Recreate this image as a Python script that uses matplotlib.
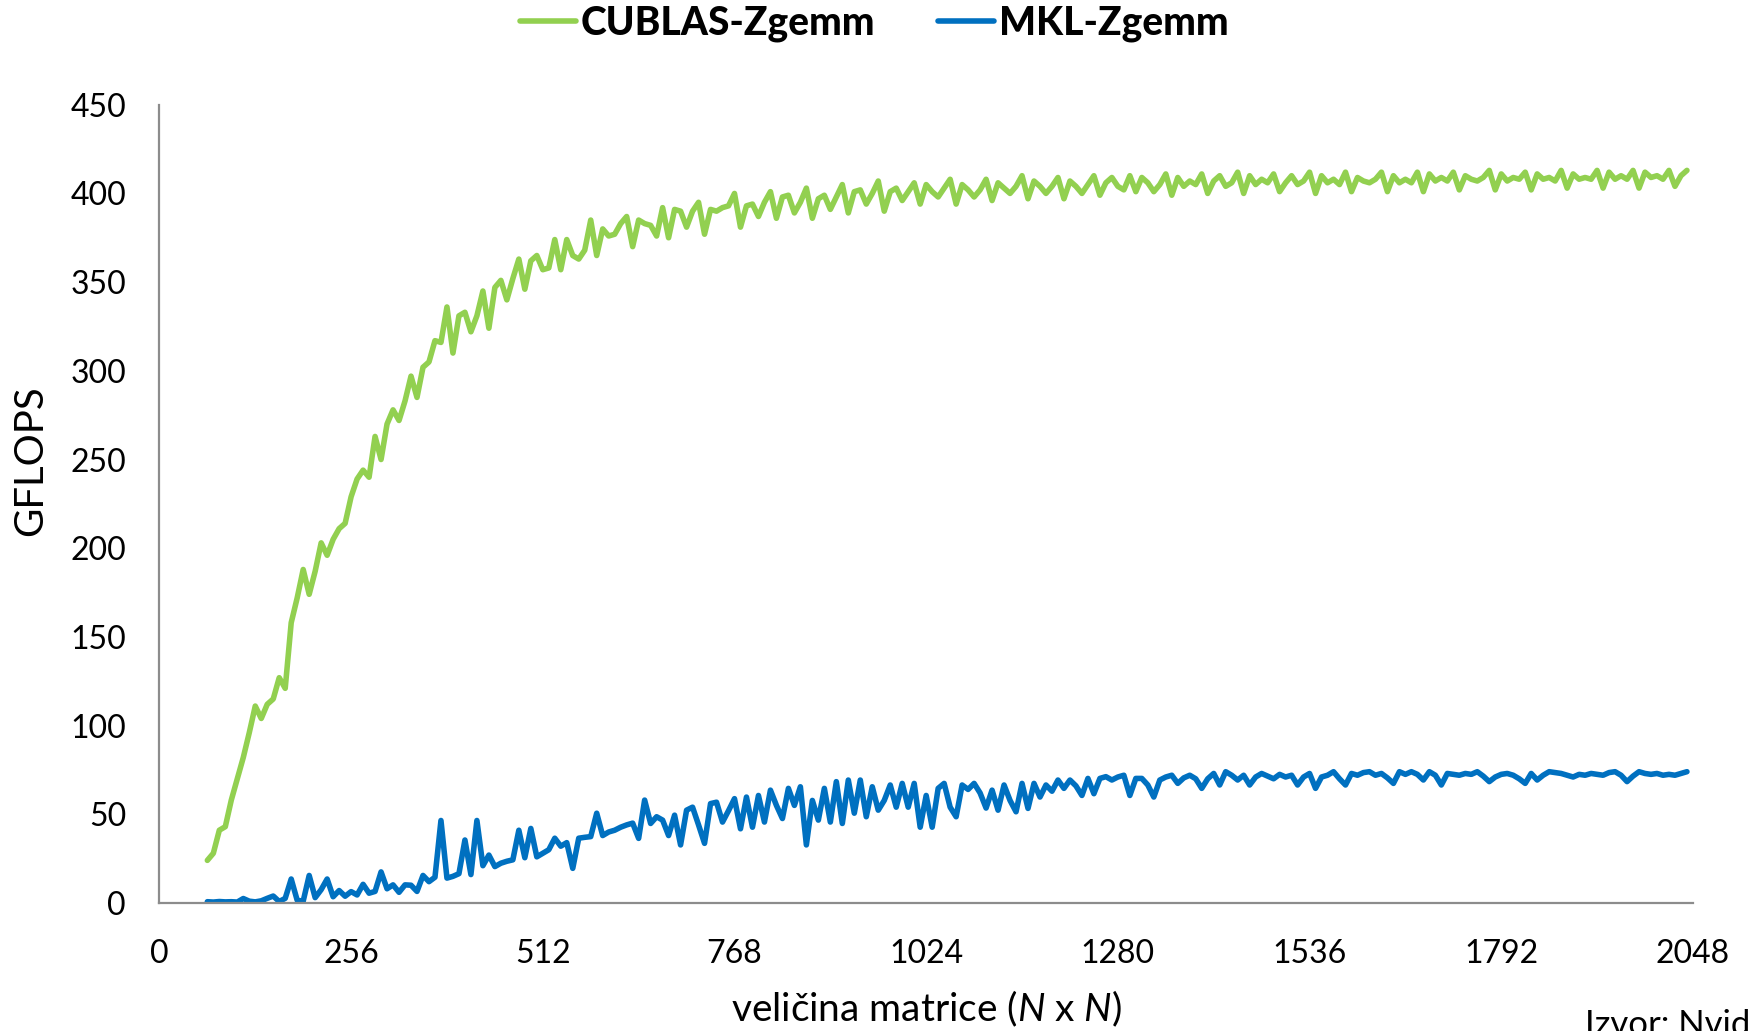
import numpy as np
import matplotlib
matplotlib.use("Agg")
import matplotlib.pyplot as plt

plt.rcParams['font.family'] = ['Lato', 'DejaVu Sans']
plt.rcParams['mathtext.fontset'] = 'custom'
plt.rcParams['mathtext.rm'] = 'Lato'
plt.rcParams['mathtext.it'] = 'Lato:italic'

# veličina matrice N, korak 8 (64 .. 2040)
velicina = np.arange(64, 2041, 8)

# CUBLAS-Zgemm (GFLOPS), očitano sa slike
cublas = [
    24, 28, 41, 43, 58, 70, 82, 96, 111, 104, 112, 115, 127, 121, 158, 172,
    188, 174, 187, 203, 196, 205, 211, 214, 229, 239, 244, 240, 263, 250, 270, 278,
    272, 283, 297, 285, 302, 305, 317, 316, 336, 310, 331, 333, 322, 331, 345, 324,
    347, 351, 340, 352, 363, 346, 362, 365, 357, 358, 374, 357, 374, 365, 363, 368,
    385, 365, 380, 376, 377, 383, 387, 370, 385, 383, 382, 376, 392, 375, 391, 390,
    381, 390, 395, 377, 391, 390, 392, 393, 400, 381, 393, 394, 387, 395, 401, 386,
    398, 399, 389, 395, 403, 386, 397, 399, 391, 398, 405, 389, 401, 402, 394, 400,
    407, 390, 401, 403, 396, 401, 406, 394, 405, 401, 398, 403, 408, 394, 405, 402,
    398, 402, 408, 396, 406, 403, 400, 404, 410, 397, 407, 404, 400, 404, 409, 397,
    407, 404, 400, 405, 410, 399, 406, 409, 404, 402, 410, 401, 409, 406, 401, 405,
    411, 399, 409, 404, 407, 405, 411, 400, 407, 410, 404, 406, 412, 400, 410, 405,
    408, 406, 411, 401, 406, 410, 405, 407, 412, 400, 410, 406, 408, 405, 412, 401,
    409, 407, 406, 408, 412, 401, 410, 406, 408, 406, 412, 401, 411, 407, 409, 407,
    412, 402, 410, 408, 407, 409, 413, 402, 411, 407, 409, 408, 412, 402, 411, 408,
    409, 407, 413, 403, 411, 408, 409, 408, 413, 403, 412, 408, 410, 408, 413, 403,
    412, 409, 410, 408, 413, 404, 410, 413,
]

# MKL-Zgemm (GFLOPS)
mkl = [
    0.7, 0.5, 0.8, 0.6, 0.7, 0.5, 2.5, 1.0, 0.6, 1.2, 2.6, 3.9, 0.8, 2.6, 13.5, 1.5,
    1.0, 15.5, 3.0, 7.5, 13.5, 3.5, 7.0, 3.8, 6.4, 4.5, 10.5, 5.5, 6.5, 17.5, 8.0, 10.2,
    6.0, 10.2, 10.0, 6.5, 15.5, 12.0, 14.5, 46.5, 14.0, 15.0, 16.5, 35.5, 16.0, 46.5, 21.0, 27.0,
    20.5, 22.4, 23.5, 24.3, 41.0, 25.5, 42.0, 26.0, 28.0, 30.0, 36.5, 32.0, 34.0, 19.5, 36.5, 37.0,
    37.4, 50.6, 38.0, 40.0, 41.0, 42.7, 44.0, 45.0, 36.4, 58.0, 44.8, 48.6, 46.7, 38.0, 49.5, 32.7,
    52.3, 54.0, 44.0, 33.6, 56.0, 56.8, 45.6, 52.0, 58.8, 41.8, 59.7, 42.7, 60.6, 45.6, 63.6, 55.0,
    47.6, 64.6, 55.0, 65.5, 32.7, 57.8, 46.7, 64.6, 45.6, 68.4, 44.8, 69.3, 50.6, 69.3, 48.6, 65.5,
    52.3, 57.8, 66.5, 54.0, 67.4, 54.0, 67.4, 42.7, 60.6, 42.7, 64.6, 67.4, 54.0, 48.6, 66.5, 64.0,
    67.4, 62.0, 53.5, 63.6, 52.3, 66.5, 57.8, 51.4, 67.4, 53.3, 67.4, 59.7, 66.5, 63.0, 69.3, 64.6,
    69.3, 66.0, 60.6, 70.2, 61.6, 70.2, 71.2, 69.3, 71.0, 72.0, 60.6, 70.2, 70.2, 66.5, 59.7, 69.3,
    71.0, 72.0, 67.4, 70.5, 72.0, 70.0, 64.6, 70.0, 73.0, 66.5, 74.0, 72.0, 69.3, 72.0, 66.5, 71.0,
    73.0, 71.5, 70.0, 72.5, 71.0, 72.0, 66.5, 71.0, 73.0, 64.6, 71.0, 72.0, 74.0, 70.0, 66.5, 73.0,
    72.0, 73.5, 74.0, 72.0, 73.0, 70.5, 67.4, 74.0, 72.5, 74.0, 72.5, 69.3, 74.0, 72.0, 66.5, 73.0,
    72.5, 72.0, 73.0, 72.5, 74.0, 71.5, 68.4, 71.0, 72.5, 73.0, 72.0, 70.0, 67.4, 73.0, 69.3, 72.0,
    74.0, 73.5, 73.0, 72.0, 71.0, 72.5, 72.0, 73.0, 72.5, 72.0, 73.5, 74.0, 72.0, 68.4, 71.5, 74.0,
    73.0, 72.5, 73.0, 72.0, 72.5, 72.0, 73.0, 74.0,
]

x_ticks = [0, 256, 512, 768, 1024, 1280, 1536, 1792, 2048]
y_ticks = [0, 50, 100, 150, 200, 250, 300, 350, 400, 450]

assert len(cublas) == len(velicina) and len(mkl) == len(velicina)

fig = plt.figure(figsize=(17.48, 10.31), dpi=100)
ax = fig.add_axes([0.0912, 0.1242, 0.8773, 0.7742])

ax.plot(velicina, cublas, color='#92D050', linewidth=4.0, solid_joinstyle='round',
        solid_capstyle='round', label='CUBLAS-Zgemm')
ax.plot(velicina, mkl, color='#0070C0', linewidth=4.0, solid_joinstyle='round',
        solid_capstyle='round', label='MKL-Zgemm')

ax.set_xlim(0, 2048)
ax.set_ylim(0, 450)
ax.set_xticks(x_ticks)
ax.set_yticks(y_ticks)
ax.tick_params(axis='both', length=0, labelsize=23)
ax.tick_params(axis='x', pad=26)
ax.tick_params(axis='y', pad=24)

for s in ['top', 'right']:
    ax.spines[s].set_visible(False)
for s in ['left', 'bottom']:
    ax.spines[s].set_color('#8c8c8c')
    ax.spines[s].set_linewidth(1.6)

ax.set_ylabel('GFLOPS', fontsize=29)
ax.yaxis.set_label_coords(-0.072, 0.5545)
ax.set_xlabel(r'veličina matrice ($\mathit{N}$ x $\mathit{N}$)', fontsize=28, labelpad=14)

fig.legend(loc='center', bbox_to_anchor=(0.5, 0.977), ncol=2, frameon=False,
           prop={'weight': 'black', 'size': 28}, handlelength=1.45, handletextpad=0.12,
           columnspacing=1.6)

fig.text(0.907, 0.021, 'Izvor: Nvidia', fontsize=25, va='top', ha='left')

fig.savefig('out.png', dpi=100)
